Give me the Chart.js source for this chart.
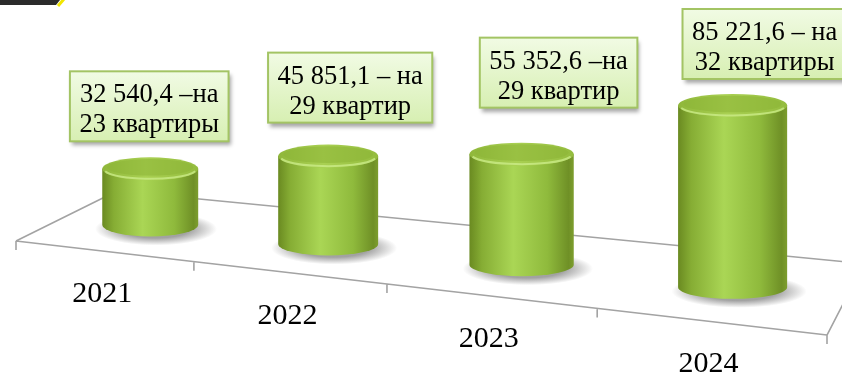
<!DOCTYPE html>
<html lang="ru">
<head>
<meta charset="utf-8">
<title>Квартиры по годам</title>
<script src="https://cdn.jsdelivr.net/npm/chart.js@4.4.1/dist/chart.umd.min.js"></script>
<style>
    html, body { margin: 0; padding: 0; background: #fff; }
    #wrap { position: relative; width: 842px; height: 376px; overflow: hidden; }
</style>
</head>
<body>
<div id="wrap">
    <canvas id="flats-chart" width="842" height="376"></canvas>
</div>
<script>
// Years and amounts
const years = ['2021', '2022', '2023', '2024'];
const amounts = [32540.4, 45851.1, 55352.6, 85221.6];
const flats = [23, 29, 29, 32];
const flatWords = ['квартиры', 'квартир', 'квартир', 'квартиры'];
const dashes = ['–на', '– на', '–на', '– на'];

// Nudge of each callout box from the top of its cylinder
const labelShift = [[-1, -16], [22, -22], [37, -35], [32, -15]];

// 3D floor look
const persp = -0.157;          // foreshortening along the front edge
const frontRise = 0.116;       // slope of the front edge
const depthLeft = [101, -50];  // depth vector at the left end
const depthRight = [37, -71.5];// depth vector at the right end
const barDepth = 0.5;          // where cylinders stand on the floor
const lidRy = 11.5;            // half height of the lid ellipse

const serif = "'Liberation Serif', 'Times New Roman', serif";

function fmt(v) {
    const parts = v.toFixed(1).split('.');
    return parts[0].replace(/\B(?=(\d{3})+(?!\d))/g, ' ') + ',' + parts[1];
}

// Map (u along categories, v into depth) to screen point
function floorPoint(ca, u, v) {
    const w = ca.right - ca.left;
    const fx = ca.left + w * (1 + persp) * u / (1 + persp * u);
    const fy = ca.bottom + 4 + frontRise * (fx - ca.left);
    const t = (fx - ca.left) / w;
    const dx = depthLeft[0] + (depthRight[0] - depthLeft[0]) * t;
    const dy = depthLeft[1] + (depthRight[1] - depthLeft[1]) * t;
    return { x: fx + v * dx, y: fy + v * dy, s: 1 / (1 + persp * u) };
}

function drawCylinder(ctx, cx, baseY, topY, rx, ry) {
    // soft shadow on the floor
    const sr = rx + 13;
    ctx.save();
    ctx.translate(cx + rx * 0.12, baseY + 4);
    ctx.scale(1, (ry + 5) / sr);
    const sh = ctx.createRadialGradient(0, 0, rx * 0.7, 0, 0, sr);
    sh.addColorStop(0, 'rgba(70,70,70,0.5)');
    sh.addColorStop(1, 'rgba(70,70,70,0)');
    ctx.fillStyle = sh;
    ctx.beginPath();
    ctx.arc(0, 0, sr, 0, Math.PI * 2);
    ctx.fill();
    ctx.restore();

    // body
    const g = ctx.createLinearGradient(cx - rx, 0, cx + rx, 0);
    g.addColorStop(0, '#6a8a21');
    g.addColorStop(0.12, '#86ad34');
    g.addColorStop(0.42, '#aad655');
    g.addColorStop(0.75, '#8fba3c');
    g.addColorStop(0.95, '#6f9026');
    g.addColorStop(1, '#7d9e2e');
    ctx.beginPath();
    ctx.moveTo(cx - rx, topY);
    ctx.lineTo(cx - rx, baseY);
    ctx.ellipse(cx, baseY, rx, ry, 0, Math.PI, 0, true);
    ctx.lineTo(cx + rx, topY);
    ctx.closePath();
    ctx.fillStyle = g;
    ctx.fill();

    // lid
    const lg = ctx.createLinearGradient(cx - rx, 0, cx + rx, 0);
    lg.addColorStop(0, '#8fb73a');
    lg.addColorStop(0.45, '#a9d052');
    lg.addColorStop(1, '#94bc3e');
    ctx.beginPath();
    ctx.ellipse(cx, topY, rx, ry, 0, 0, Math.PI * 2);
    ctx.fillStyle = lg;
    ctx.fill();
    ctx.beginPath();
    ctx.ellipse(cx, topY - 1.5, rx * 0.9, ry * 0.72, 0, 0, Math.PI * 2);
    ctx.fillStyle = 'rgba(140,180,55,0.55)';
    ctx.fill();
    // bright rim on the front of the lid
    ctx.beginPath();
    ctx.ellipse(cx, topY, rx - 1.5, ry - 1.5, 0, 0.08 * Math.PI, 0.92 * Math.PI);
    ctx.strokeStyle = 'rgba(205,238,140,0.75)';
    ctx.lineWidth = 2;
    ctx.stroke();
}

function drawCallout(ctx, cx, bottom, lines) {
    ctx.font = '26.5px ' + serif;
    const tw = Math.max(...lines.map(l => ctx.measureText(l).width));
    const w = tw + 19, h = 70;
    const x = cx - w / 2, y = bottom - h;

    ctx.save();
    ctx.shadowColor = 'rgba(0,0,0,0.35)';
    ctx.shadowBlur = 4;
    ctx.shadowOffsetX = 2;
    ctx.shadowOffsetY = 4;
    const g = ctx.createLinearGradient(0, y, 0, y + h);
    g.addColorStop(0, '#f1fbe4');
    g.addColorStop(1, '#d7efb2');
    ctx.fillStyle = g;
    ctx.fillRect(x, y, w, h);
    ctx.restore();

    ctx.strokeStyle = '#a3c464';
    ctx.lineWidth = 2;
    ctx.strokeRect(x, y, w, h);

    ctx.fillStyle = '#000';
    ctx.textAlign = 'center';
    ctx.textBaseline = 'alphabetic';
    lines.forEach((l, i) => ctx.fillText(l, cx, y + 31 + i * 30));
}

const cylinders = {
    id: 'cylinders',
    beforeDraw(chart) {
        const ctx = chart.ctx;
        ctx.save();
        ctx.fillStyle = '#fff';
        ctx.fillRect(0, 0, chart.width, chart.height);
        // corner decoration
        ctx.fillStyle = '#2b2b2b';
        ctx.beginPath();
        ctx.moveTo(0, 0); ctx.lineTo(60, 0); ctx.lineTo(56, 5); ctx.lineTo(0, 5);
        ctx.fill();
        ctx.strokeStyle = '#f2e600';
        ctx.lineWidth = 3;
        ctx.beginPath();
        ctx.moveTo(64, -1); ctx.lineTo(58, 6);
        ctx.stroke();
        ctx.restore();
    },
    afterDraw(chart) {
        const ctx = chart.ctx;
        const ca = chart.chartArea;
        const xs = chart.scales.x, ys = chart.scales.y;
        const n = years.length;
        const w = ca.right - ca.left;

        ctx.save();
        // floor frame
        const fl = floorPoint(ca, 0, 0), fr = floorPoint(ca, 1, 0);
        const bl = floorPoint(ca, 0, 1), br = floorPoint(ca, 1, 1);
        ctx.strokeStyle = '#a3a3a3';
        ctx.lineWidth = 1.6;
        ctx.beginPath();
        ctx.moveTo(bl.x, bl.y); ctx.lineTo(br.x, br.y);
        ctx.moveTo(fl.x, fl.y); ctx.lineTo(bl.x, bl.y);
        ctx.moveTo(fr.x, fr.y); ctx.lineTo(br.x, br.y);
        ctx.moveTo(fl.x, fl.y); ctx.lineTo(fr.x, fr.y);
        for (let k = 0; k <= n; k++) {
            const p = floorPoint(ca, k / n, 0);
            ctx.moveTo(p.x, p.y);
            ctx.lineTo(p.x, p.y + 9);
        }
        ctx.stroke();

        // cylinders from the bar elements
        const meta = chart.getDatasetMeta(0);
        const tops = [];
        meta.data.forEach((bar, i) => {
            const u = (bar.x - ca.left) / w;
            const p = floorPoint(ca, u, barDepth);
            const h = ys.getPixelForValue(ys.min) - ys.getPixelForValue(amounts[i]);
            const rx = bar.width * p.s / 2;
            drawCylinder(ctx, p.x, p.y, p.y - h, rx, lidRy);
            tops.push({ x: p.x, y: p.y - h - lidRy });
        });

        // value callouts
        tops.forEach((t, i) => {
            drawCallout(ctx, t.x + labelShift[i][0], t.y + labelShift[i][1], [
                fmt(amounts[i]) + ' ' + dashes[i],
                flats[i] + ' ' + flatWords[i]
            ]);
        });

        // year labels under the front edge
        ctx.font = '30px ' + serif;
        ctx.fillStyle = '#000';
        ctx.textAlign = 'center';
        ctx.textBaseline = 'alphabetic';
        years.forEach((yr, i) => {
            const u = (xs.getPixelForValue(i) - ca.left) / w;
            const p = floorPoint(ca, u, 0);
            ctx.fillText(yr, p.x - 1, p.y + 51);
        });
        ctx.restore();
    }
};

const chart = new Chart(document.getElementById('flats-chart'), {
    type: 'bar',
    data: {
        labels: years,
        datasets: [{
            data: amounts,
            backgroundColor: 'rgba(0,0,0,0)',
            barPercentage: 0.58,
            categoryPercentage: 0.8
        }]
    },
    options: {
        responsive: false,
        devicePixelRatio: 1,
        animation: false,
        layout: { padding: { left: 16, right: 15, top: 20, bottom: 139 } },
        scales: {
            x: { display: false },
            y: { display: false, min: 9000, max: 100000 }
        },
        plugins: {
            legend: { display: false },
            tooltip: { enabled: false }
        }
    },
    plugins: [cylinders]
});
</script>
</body>
</html>
